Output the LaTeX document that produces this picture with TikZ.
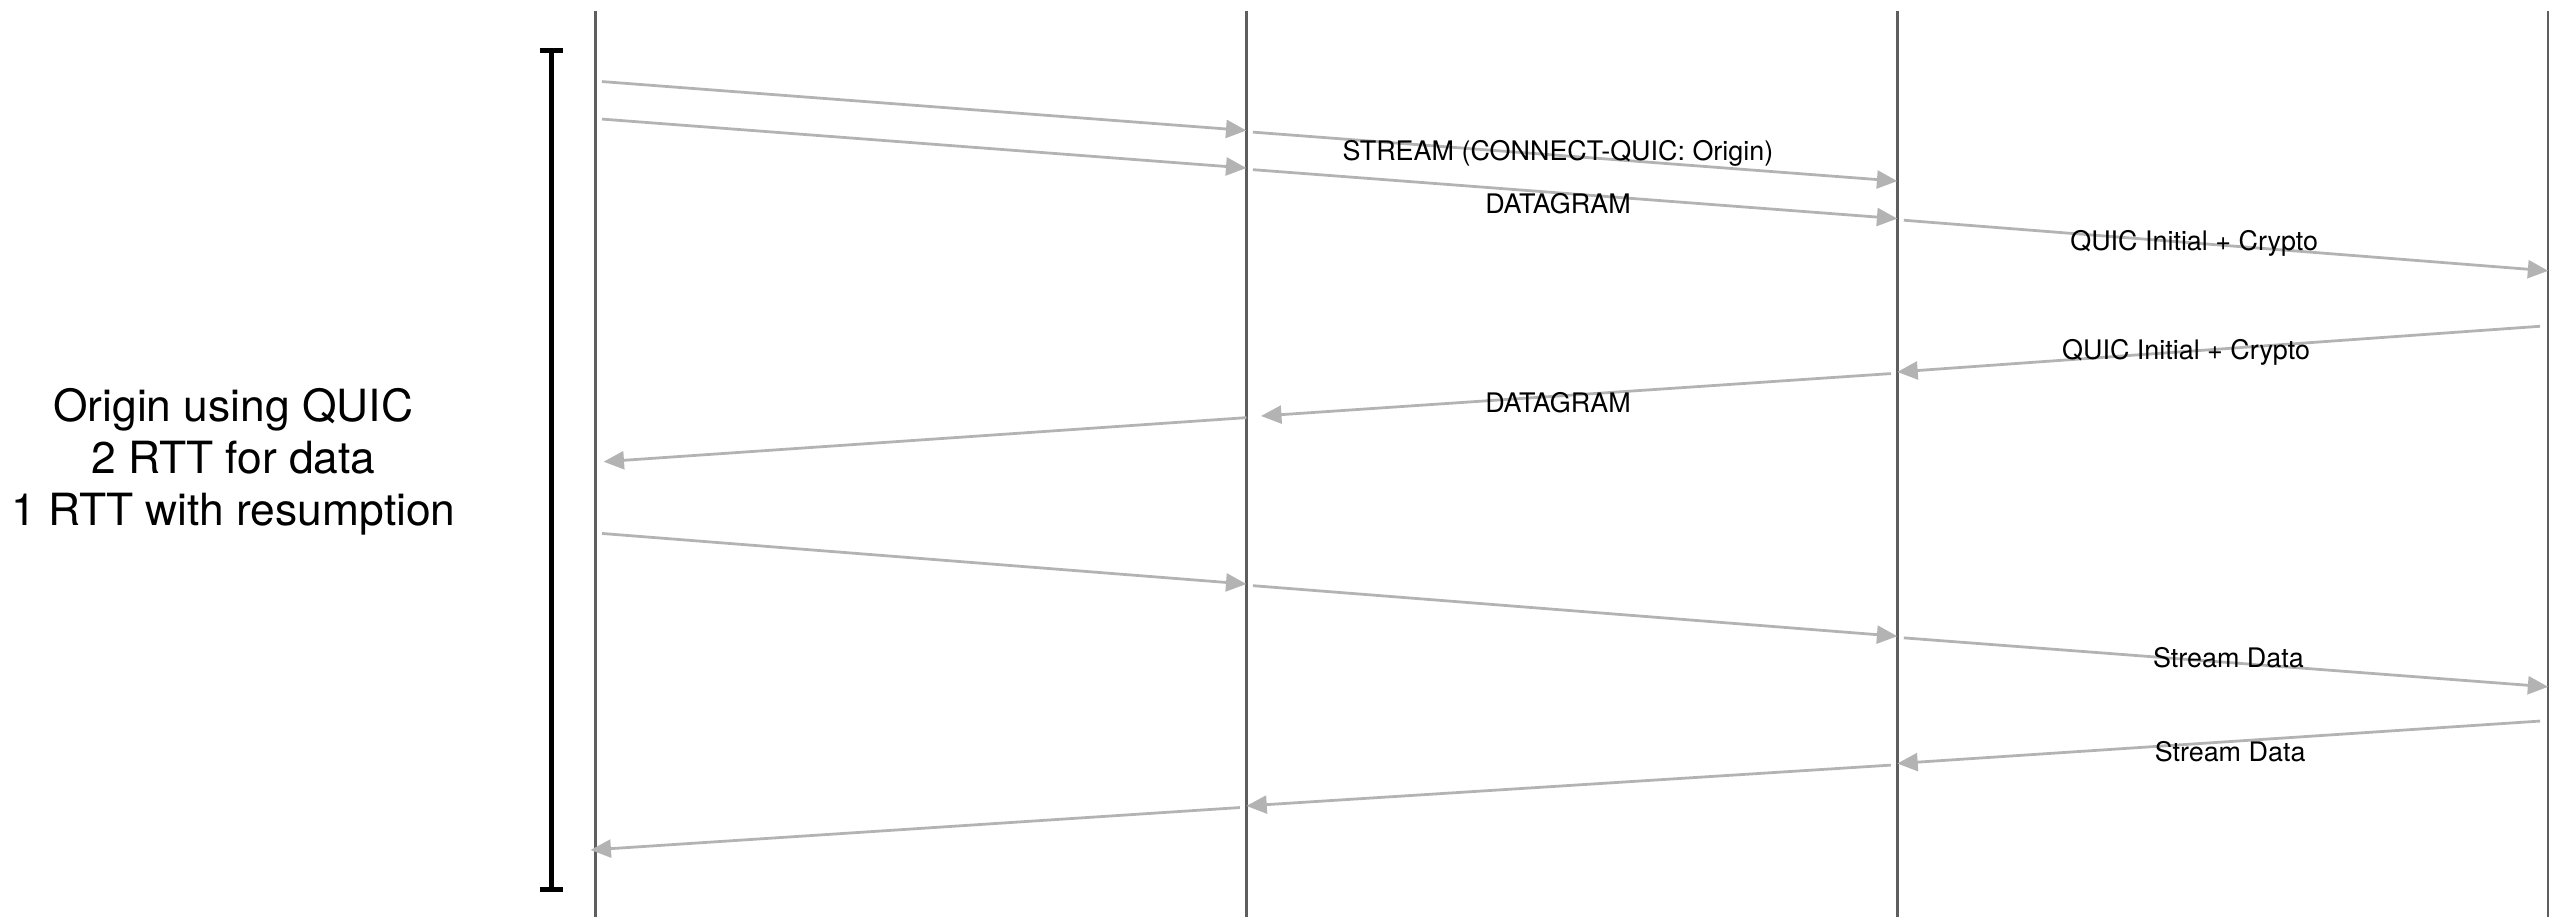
\documentclass[tikz,border=0pt]{standalone}
\usepackage{fontspec}
\setmainfont{TeX Gyre Heros}
\usepackage{xcolor}
\usetikzlibrary{arrows.meta}
\usetikzlibrary{positioning}

\definecolor{lifegray}{HTML}{5E5E5E}
\definecolor{msggray}{HTML}{B3B3B3}

\tikzset{
  lifeline/.style={draw=lifegray, line width=1.5pt},
  msg/.style={draw=msggray, line width=1.7pt, -{Triangle[length=12.5pt,width=11pt]}},
  msglabel/.style={font=\fontsize{16.5}{19}\selectfont, inner sep=0pt},
  rtt/.style={draw=black, line width=3pt},
}

\begin{document}
\begin{tikzpicture}[x=1pt,y=-1pt]
  \useasboundingbox (0,0) rectangle (1568,562);

  % lifelines
  \foreach \n/\x in {cl/365, px/764, tg/1163, og/1562} {
    \coordinate (\n-top) at (\x,7);
    \coordinate (\n-bot) at (\x,562);
    \draw[lifeline] (\n-top) -- (\n-bot);
  }

  % bracket and note
  \coordinate (br-top) at (338,31);
  \coordinate (br-bot) at (338,545);
  \draw[rtt] (br-top) -- (br-bot);
  \draw[rtt] ([xshift=-7pt]br-top) -- ([xshift=7pt]br-top);
  \draw[rtt] ([xshift=-7pt]br-bot) -- ([xshift=7pt]br-bot);
  \node[align=center, font=\fontsize{27.2}{32}\selectfont] (note) at (143,283)
    {Origin using QUIC\\2 RTT for data\\1 RTT with resumption};

  % messages
  \foreach \m/\xa/\ya/\xb/\yb in {
      a1/369/50/764/80,     a2/768/81/1163/111,
      b1/369/73/764/103,    b2/768/104/1163/134,   b3/1167/135/1562/166,
      c1/1557/200/1163/228, c2/1159/229/773/255,   c3/764/256/370/283,
      d1/369/327/764/358,   d2/768/359/1163/390,   d3/1167/391/1562/421,
      e1/1557/442/1163/468, e2/1159/469/764/494,   e3/760/495/362/521} {
    \coordinate (\m-s) at (\xa,\ya);
    \coordinate (\m-e) at (\xb,\yb);
    \draw[msg] (\m-s) -- (\m-e);
  }

  % labels
  \node[msglabel] (l-stream) at (955,94) {STREAM (CONNECT-QUIC: Origin)};
  \node[msglabel] (l-dgram) at (955,125) {DATAGRAM};
  \node[msglabel] (l-init) at (1345,149) {QUIC Initial + Crypto};
  \node[msglabel] (l-initr) at (1340,216) {QUIC Initial + Crypto};
  \node[msglabel] (l-dgramr) at (955,247) {DATAGRAM};
  \node[msglabel] (l-data) at (1366,403) {Stream Data};
  \node[msglabel] (l-datar) at (1367,461) {Stream Data};
\end{tikzpicture}
\end{document}
